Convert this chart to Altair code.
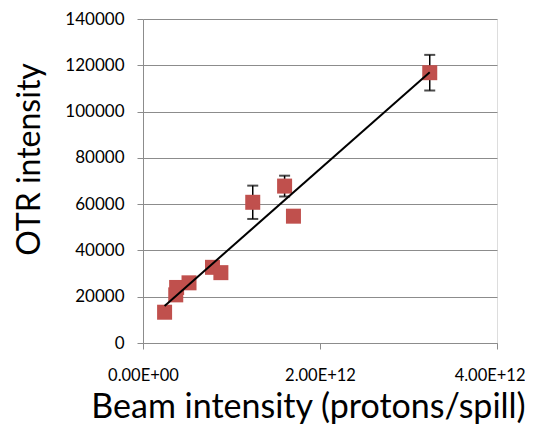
import altair as alt
import pandas as pd

# Data
beam = [0.244e12, 0.37e12, 0.38e12, 0.52e12, 0.785e12, 0.88e12, 1.24e12, 1.60e12, 1.70e12, 3.24e12]
otr = [13300, 20800, 24000, 26000, 32700, 30400, 60800, 67800, 54800, 116800]
err = [0, 0, 0, 0, 0, 0, 7200, 4500, 0, 7700]

# Linear trendline end points (as drawn in the reference)
trend_x = [0.244e12, 3.24e12]
trend_y = [16000, 117000]

x_ticks = [0, 2e12, 4e12]
y_ticks = [0, 20000, 40000, 60000, 80000, 100000, 120000, 140000]

df = pd.DataFrame({"beam": beam, "otr": otr, "err": err})
df["lo"] = df["otr"] - df["err"]
df["hi"] = df["otr"] + df["err"]
err_df = df[df["err"] > 0]
trend_df = pd.DataFrame({"beam": trend_x, "otr": trend_y})

FONT = "Lato"
GRID = "#8c8c8c"

x_scale = alt.Scale(domain=[0, 4e12], nice=False, zero=True)
y_scale = alt.Scale(domain=[0, 140000], nice=False)

x_axis = alt.Axis(
    values=x_ticks,
    labelExpr="datum.value == 0 ? '0.00E+00' : upper(format(datum.value, '.2e'))",
    title="Beam intensity (protons/spill)",
    grid=False,
    domainColor=GRID,
    tickColor=GRID,
    tickSize=6,
    labelPadding=18,
    labelFlush=False,
    labelAlign={"condition": {"test": "datum.value >= 4e12", "value": "right"}, "value": "center"},
    labelOffset={"condition": {"test": "datum.value >= 4e12", "value": 28}, "value": 0},
    labelFontSize=16.5,
    labelColor="#000000",
    labelFont=FONT,
    titleFont=FONT,
    titleFontSize=34,
    titleFontWeight="normal",
    titleColor="#000000",
    titleX=165,
    titleY=74,
    titleAlign="center",
    titleBaseline="alphabetic",
)

y_axis = alt.Axis(
    values=y_ticks,
    format="d",
    title="OTR intensity",
    grid=True,
    gridColor=GRID,
    gridWidth=1,
    domainColor=GRID,
    tickColor=GRID,
    tickSize=6,
    labelPadding=13,
    labelFlush=False,
    labelFontSize=17,
    labelColor="#000000",
    labelFont=FONT,
    titleFont=FONT,
    titleFontSize=32,
    titleFontWeight="normal",
    titleColor="#000000",
    titleAngle=-90,
    titleX=-104,
    titleY=140,
    titleAlign="center",
    titleBaseline="alphabetic",
)

base_x = alt.X("beam:Q", scale=x_scale, axis=x_axis)
base_y = alt.Y("otr:Q", scale=y_scale, axis=y_axis)

bars = alt.Chart(err_df).mark_rule(color="black", strokeWidth=1.5).encode(
    x=alt.X("beam:Q", scale=x_scale),
    y=alt.Y("lo:Q", scale=y_scale),
    y2="hi:Q",
)
caps_lo = alt.Chart(err_df).mark_tick(color="black", thickness=2, size=11, orient="horizontal").encode(
    x=alt.X("beam:Q", scale=x_scale),
    y=alt.Y("lo:Q", scale=y_scale),
)
caps_hi = alt.Chart(err_df).mark_tick(color="black", thickness=2, size=11, orient="horizontal").encode(
    x=alt.X("beam:Q", scale=x_scale),
    y=alt.Y("hi:Q", scale=y_scale),
)

points = alt.Chart(df).mark_point(
    shape="square", filled=True, size=225, color="#C0504D", opacity=1
).encode(x=base_x, y=base_y)

trend = alt.Chart(trend_df).mark_line(color="black", strokeWidth=2).encode(
    x=alt.X("beam:Q", scale=x_scale),
    y=alt.Y("otr:Q", scale=y_scale),
)

chart = alt.layer(bars, caps_lo, caps_hi, points, trend).properties(
    width=354,
    height=324,
    autosize=alt.AutoSizeParams(type="none"),
    padding={"left": 135, "top": 11, "right": 28, "bottom": 86},
).configure_view(stroke=None).configure(background="white")

chart.save("out.html", embed_options={"renderer": "svg", "actions": False})
